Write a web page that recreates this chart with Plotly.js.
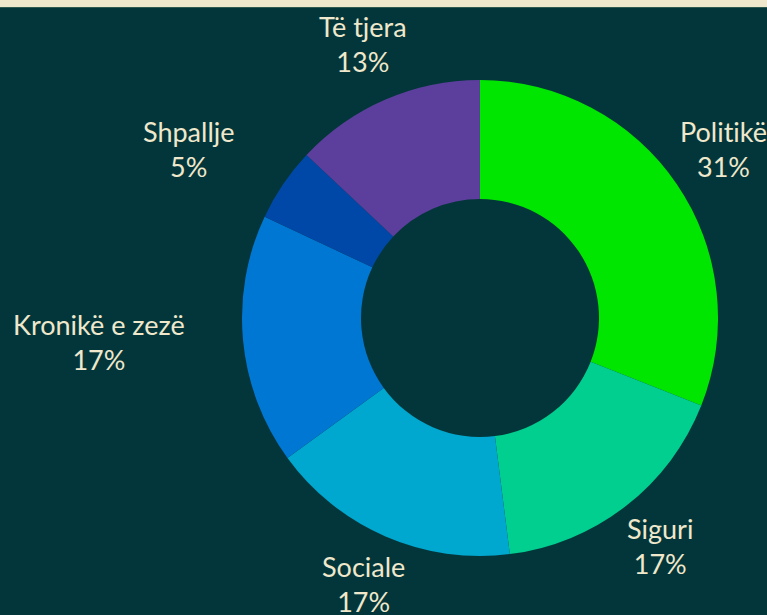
<!DOCTYPE html>
<html>
<head>
<meta charset="utf-8">
<script src="https://cdn.plot.ly/plotly-3.0.1.min.js"></script>
<style>
html,body{margin:0;padding:0;background:#efe8cc;overflow:hidden;}
#top{height:7px;background:#efe8cc;border-bottom:1px solid #2f5a50;}
#chart{width:767px;height:607px;}
svg text{font-variant-ligatures:none;font-feature-settings:"liga" 0, "clig" 0;}
</style>
</head>
<body>
<div id="top"></div>
<div id="chart"></div>
<script>
const categories = ["Politikë", "Siguri", "Sociale", "Kronikë e zezë", "Shpallje", "Të tjera"];
const shares = [31, 17, 17, 17, 5, 13];
const colors = ["#00e600", "#00cf8f", "#00a7cf", "#0078d3", "#0048a8", "#5c3f9c"];

const W = 767, H = 607;
const margin = {l: 242, r: 49, t: 72, b: 59};
const plotSize = H - margin.t - margin.b;   // square pie domain in px
const labelDist = 294;                       // label radius in px from pie centre
const textColor = "#efe8cc";
const fontFamily = "Lato, 'Open Sans', sans-serif";

const total = shares.reduce((a, b) => a + b, 0);
let cum = 0;
const annotations = categories.map((cat, i) => {
  const mid = (cum + shares[i] / 2) / total * 2 * Math.PI;  // clockwise from 12 o'clock
  cum += shares[i];
  const dx = Math.sin(mid), dy = Math.cos(mid);
  const rightAnchored = dx < -0.7;
  return {
    xref: "paper", yref: "paper",
    x: 0.5 + dx * labelDist / plotSize,
    y: 0.5 + dy * labelDist / plotSize,
    xanchor: rightAnchored ? "right" : "center",
    yanchor: "middle",
    yshift: 4,
    align: "center",
    showarrow: false,
    text: cat + "<br>" + Math.round(shares[i] / total * 100) + "%",
    font: {family: fontFamily, size: 27, color: textColor}
  };
});

const trace = {
  type: "pie",
  labels: categories,
  values: shares,
  hole: 0.5,
  sort: false,
  direction: "clockwise",
  rotation: 0,
  marker: {colors: colors, line: {width: 0}},
  textinfo: "none",
  showlegend: false,
  hoverinfo: "label+percent"
};

const layout = {
  width: W,
  height: H,
  paper_bgcolor: "#03363a",
  plot_bgcolor: "#03363a",
  margin: margin,
  showlegend: false,
  annotations: annotations
};

Plotly.newPlot("chart", [trace], layout, {displayModeBar: false, staticPlot: true});
</script>
</body>
</html>
